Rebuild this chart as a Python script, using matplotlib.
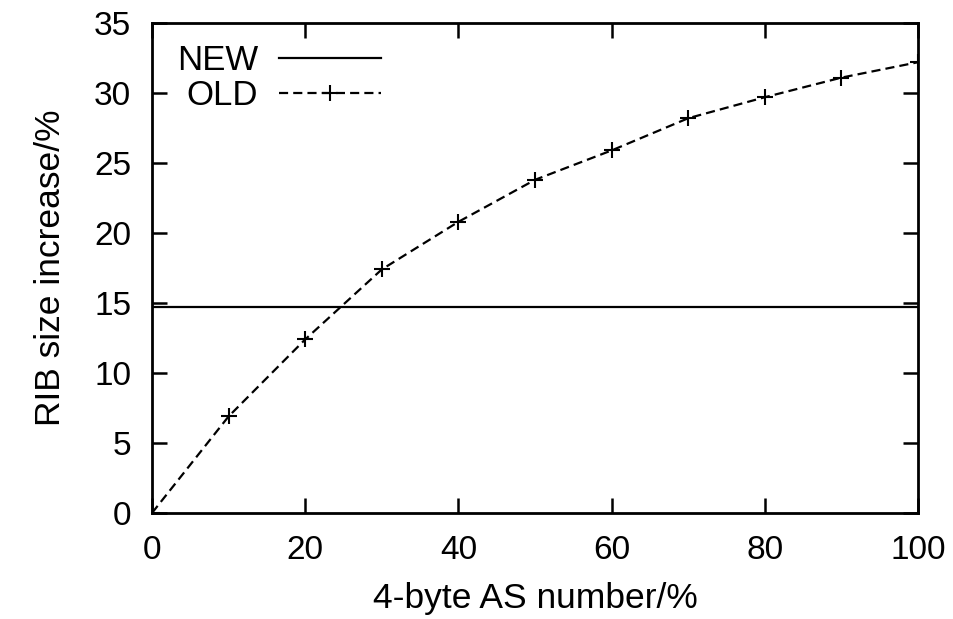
import matplotlib
matplotlib.use("Agg")
import matplotlib.pyplot as plt

# data
as4_pct = [0, 10, 20, 30, 40, 50, 60, 70, 80, 90, 100]
old_rib = [0, 6.9, 12.4, 17.4, 20.8, 23.8, 25.9, 28.2, 29.7, 31.1, 32.2]
new_rib = 14.7

plt.rcParams['font.family'] = ['Liberation Sans', 'DejaVu Sans']
plt.rcParams['font.size'] = 24

fig = plt.figure(figsize=(9.54, 6.19), dpi=100)
ax = fig.add_axes([0.1593, 0.1712, 0.9623 - 0.1593, 0.9628 - 0.1712])

ax.plot([as4_pct[0], as4_pct[-1]], [new_rib, new_rib], color='black', lw=1.6, label='NEW')
ax.plot(as4_pct, old_rib, color='black', lw=1.6, dashes=(4.1, 2.3),
        marker='+', markersize=12, markeredgewidth=1.5, label='OLD')

ax.set_xlim(0, 100)
ax.set_ylim(0, 35)
ax.set_xticks(range(0, 101, 20))
ax.set_yticks(range(0, 36, 5))
ax.tick_params(direction='in', length=11, width=1.8, top=True, right=True)
ax.tick_params(axis='x', pad=16)
ax.tick_params(axis='y', pad=15)
for s in ax.spines.values():
    s.set_linewidth(2)

ax.set_xlabel('4-byte AS number/%', labelpad=11, fontsize=25.5)
ax.set_ylabel('RIB size increase/%', labelpad=19, fontsize=25.5)

ax.legend(loc='upper left', frameon=False, markerfirst=False, handlelength=2.95,
          numpoints=1, labelspacing=0.05, handletextpad=0.6, fontsize=25,
          bbox_to_anchor=(-0.008, 1.02))

fig.savefig('out.png', dpi=100)
